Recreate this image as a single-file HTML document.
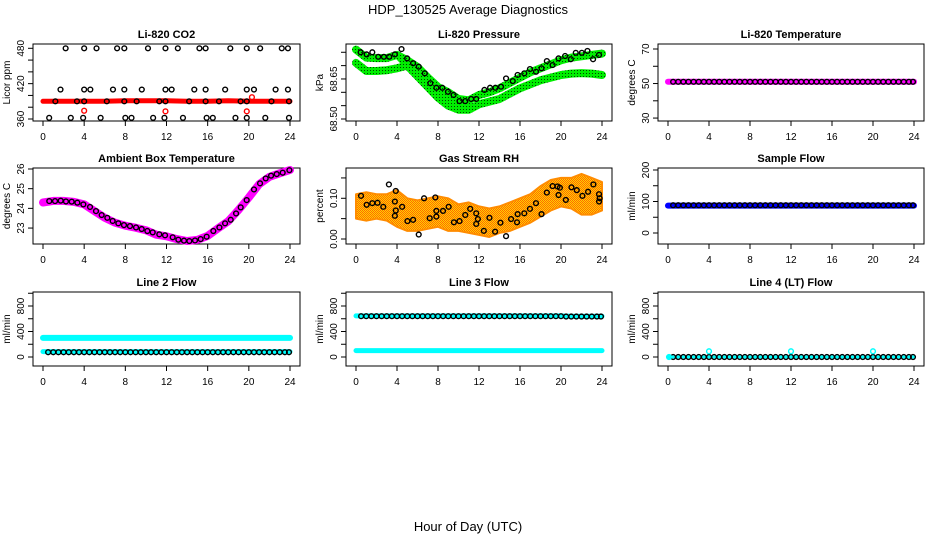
<!DOCTYPE html>
<html><head><meta charset="utf-8"><style>
html,body{margin:0;padding:0;background:#fff;}
svg{display:block;font-family:"Liberation Sans",Arial,sans-serif;}
</style></head><body>
<svg id="chart" width="936" height="540" viewBox="0 0 936 540" xmlns="http://www.w3.org/2000/svg">
<defs>
<pattern id="greenPat" width="3" height="3" patternUnits="userSpaceOnUse"><rect width="3" height="3" fill="#00ee00"/><rect x="1" y="1" width="1" height="1" fill="#004400"/></pattern>
<pattern id="rhPat" width="2" height="2" patternUnits="userSpaceOnUse"><rect width="2" height="2" fill="#ffd000"/><rect width="1" height="1" fill="#ff6a00"/><rect x="1" y="1" width="1" height="1" fill="#ff6a00"/></pattern>
</defs>
<text x="468" y="14" text-anchor="middle" font-size="13">HDP_130525  Average Diagnostics</text>
<text x="468" y="531" text-anchor="middle" font-size="13">Hour of Day (UTC)</text>
</svg>
<script>
// ---- data ----
const xTicks = [0,4,8,12,16,20,24];
const co2Hours = [2.2,4.0,5.2,7.2,7.9,10.2,11.9,13.1,15.2,15.8,18.2,19.8,21.1,23.2,23.8,
 1.7,4.0,4.6,6.8,7.9,9.6,11.9,12.5,14.7,15.8,17.7,19.8,20.5,22.6,23.8,
 1.2,3.3,4.0,6.2,7.9,9.1,11.3,11.9,14.2,15.8,17.1,19.2,19.8,22.2,23.9,
 0.6,2.7,3.9,5.6,8.0,8.6,10.7,11.8,13.6,15.9,16.5,18.7,19.8,21.6,23.9];
const co2Vals = [480,480,480,480,480,480,480,480,480,480,480,480,480,480,480,
 410,410,410,410,410,410,410,410,410,410,410,410,410,410,410,
 390,390,390,390,390,390,390,390,390,390,390,390,390,390,390,
 362,362,362,362,362,362,362,362,362,362,362,362,362,362,362];
const co2RedHours = [0,2,4,6,8,10,12,14,16,18,20,22,24];
const co2RedVals = [390,390,390,390,391,391,391,390,390,391,390,390,390];
const co2RedPtHours = [4.0,11.9,19.8,20.3];
const co2RedPtVals = [374,373,373,397];

const presHours = [0.45,1.04,1.59,2.17,2.72,3.24,3.79,4.44,4.99,5.57,6.12,6.71,7.25,7.84,8.42,8.97,9.52,10.1,10.66,11.24,11.73,12.53,13.08,13.6,14.15,14.64,15.29,15.77,16.42,16.97,17.56,18.1,18.62,19.18,19.76,20.4,20.96,21.44,22.03,22.58,23.13,23.71];
const presVals = [68.750,68.742,68.750,68.733,68.733,68.733,68.742,68.762,68.727,68.709,68.696,68.671,68.634,68.617,68.617,68.602,68.590,68.567,68.567,68.575,68.575,68.609,68.617,68.617,68.621,68.652,68.642,68.665,68.671,68.687,68.677,68.690,68.717,68.702,68.727,68.736,68.724,68.748,68.748,68.755,68.724,68.740];
const hourly = [0,1,2,3,4,5,6,7,8,9,10,11,12,13,14,15,16,17,18,19,20,21,22,23,24];
const presUpper = [68.76,68.73,68.728,68.728,68.74,68.72,68.695,68.655,68.62,68.60,68.575,68.57,68.59,68.60,68.615,68.635,68.655,68.675,68.69,68.705,68.72,68.73,68.735,68.74,68.745];
const presLower = [68.71,68.68,68.68,68.683,68.69,68.70,68.66,68.62,68.58,68.55,68.535,68.535,68.555,68.565,68.575,68.595,68.615,68.63,68.645,68.655,68.665,68.67,68.672,68.67,68.665];
const presMidHours = [4,5,6,7,8,9,10,11];
const presMidVals = [68.74,68.70,68.665,68.63,68.60,68.575,68.56,68.56];

const flowHours = [0.5,1,1.5,2,2.5,3,3.5,4,4.5,5,5.5,6,6.5,7,7.5,8,8.5,9,9.5,10,10.5,11,11.5,12,12.5,13,13.5,14,14.5,15,15.5,16,16.5,17,17.5,18,18.5,19,19.5,20,20.5,21,21.5,22,22.5,23,23.5,23.9];
const liTempVals = [51,51,51,51,51,51,51,51,51,51,51,51,51,51,51,51,51,51,51,51,51,51,51,51,51,51,51,51,51,51,51,51,51,51,51,51,51,51,51,51,51,51,51,51,51,51,51,51];
const liTempBand = [51,51,51,51,51,51,51,51,51,51,51,51,51,51,51,51,51,51,51,51,51,51,51,51,51];

const ambHours = [0.61,1.17,1.72,2.23,2.79,3.34,3.92,4.57,5.15,5.70,6.25,6.77,7.32,7.87,8.45,9.04,9.59,10.14,10.66,11.3,11.86,12.6,13.15,13.7,14.22,14.77,15.32,15.9,16.55,17.14,17.69,18.24,18.76,19.21,19.79,20.5,21.09,21.64,22.16,22.71,23.29,23.94];
const ambVals = [24.37,24.37,24.39,24.35,24.34,24.29,24.20,24.07,23.86,23.66,23.52,23.36,23.24,23.15,23.10,23.03,22.95,22.85,22.78,22.68,22.63,22.53,22.41,22.36,22.34,22.37,22.44,22.56,22.85,23.03,23.24,23.42,23.74,24.05,24.42,24.96,25.27,25.52,25.66,25.74,25.81,25.94];
const ambBand = [24.3,24.38,24.38,24.33,24.2,23.86,23.52,23.27,23.12,23.02,22.89,22.66,22.58,22.44,22.34,22.40,22.6,22.98,23.35,23.92,24.55,25.22,25.6,25.78,25.95];

const rhHours = [0.49,1.04,1.59,2.10,2.66,3.21,3.79,3.88,3.88,3.79,4.50,5.02,5.57,6.12,6.64,7.19,7.74,7.84,7.84,8.49,9.04,9.55,10.1,10.66,11.14,11.73,11.73,11.89,12.47,13.02,13.57,14.09,14.64,15.13,15.71,15.77,16.42,16.97,17.56,18.1,18.62,19.18,19.66,19.76,19.89,20.47,21.02,21.54,22.09,22.64,23.16,23.71,23.71,23.77];
const rhVals = [0.106,0.084,0.088,0.089,0.079,0.134,0.092,0.118,0.070,0.057,0.079,0.044,0.047,0.011,0.100,0.051,0.102,0.055,0.069,0.069,0.079,0.041,0.044,0.059,0.074,0.063,0.037,0.049,0.020,0.052,0.018,0.040,0.007,0.049,0.041,0.061,0.063,0.074,0.088,0.061,0.114,0.130,0.129,0.108,0.126,0.096,0.127,0.120,0.106,0.116,0.134,0.110,0.092,0.100];
const rhLow = [0.05,0.045,0.05,0.045,0.03,0.02,0.02,0.025,0.03,0.02,0.02,0.015,0.01,0.005,0.015,0.02,0.03,0.04,0.055,0.07,0.08,0.075,0.06,0.06,0.07];
const rhHigh = [0.11,0.115,0.11,0.11,0.12,0.10,0.095,0.10,0.105,0.10,0.085,0.09,0.08,0.075,0.08,0.09,0.10,0.11,0.13,0.145,0.15,0.15,0.16,0.15,0.14];

const sampleVals = [88,88,88,88,88,88,88,88,88,88,88,88,88,88,88,88,88,88,88,88,88,88,88,88,88,88,88,88,88,88,88,88,88,88,88,88,88,88,88,88,88,88,88,88,88,88,88,88];
const sampleBand = [87,87,87,87,87,87,87,87,87,87,87,87,87,87,87,87,87,87,87,87,87,87,87,87,87];

const line2Vals = [75,75,75,75,75,75,75,75,75,75,75,75,75,75,75,75,75,75,75,75,75,75,75,75,75,75,75,75,75,75,75,75,75,75,75,75,75,75,75,75,75,75,75,75,75,75,75,75];
const line2Upper = [300,300,300,300,300,300,300,300,300,300,300,300,300,300,300,300,300,300,300,300,300,300,300,300,300];
const line2Lower = [85,85,85,85,85,85,85,85,85,85,85,85,85,85,85,85,85,85,85,85,85,85,85,85,85];

const line3Vals = [640,640,640,640,640,640,640,640,640,640,640,640,640,640,640,640,640,640,640,640,640,640,640,640,640,640,640,640,640,640,640,640,640,640,640,640,640,640,640,640,635,635,635,635,635,635,635,635];
const line3Upper = [645,645,645,645,645,645,645,645,645,645,645,645,645,645,645,645,645,645,645,645,645,640,640,640,640];
const line3Lower = [100,100,100,100,100,100,100,100,100,100,100,100,100,100,100,100,100,100,100,100,100,100,100,100,100];

const line4Vals = [0,0,0,0,0,0,0,0,0,0,0,0,0,0,0,0,0,0,0,0,0,0,0,0,0,0,0,0,0,0,0,0,0,0,0,0,0,0,0,0,0,0,0,0,0,0,0,0];
const line4Band = [0,0,0,0,0,0,0,0,0,0,0,0,0,0,0,0,0,0,0,0,0,0,0,0,0];
const line4PtHours = [4,12,20];
const line4PtVals = [90,90,90];
const line4StartHours = [0.1];
const line4StartVals = [0];

// ---- drawing ----
const NS = "http://www.w3.org/2000/svg";
const svg = document.getElementById('chart');
function mk(tag, attrs, parent){
  const e = document.createElementNS(NS, tag);
  for (const k in attrs) e.setAttribute(k, attrs[k]);
  (parent||svg).appendChild(e);
  return e;
}
function makePanel(name, title, ytitle, x0, x1, y0, y1, ymin, ymax, yTicks, yLabels){
  const g = mk('g', {});
  
  
  const p = {g, x0, x1, y0, y1, ymin, ymax};
  p.sx = h => x0 + 10 + h * (x1 - x0 - 20) / 24;
  p.sy = v => y1 - (v - ymin) / (ymax - ymin) * (y1 - y0);
  const t = mk('text', {x:(x0+x1)/2, y:y0-6, 'text-anchor':'middle', 'font-size':11, 'font-weight':'bold'}, g);
  t.textContent = title;
  
  
  const yt = mk('text', {x:x0-23, y:(y0+y1)/2, 'text-anchor':'middle', 'font-size':10, transform:`rotate(-90 ${x0-23} ${(y0+y1)/2})`}, g);
  yt.textContent = ytitle;
  
  
  const xa = mk('g', {}, g);
  
  
  mk('line', {x1:p.sx(xTicks[0]), x2:p.sx(xTicks[xTicks.length-1]), y1:y1, y2:y1, stroke:'#000'}, xa);
  xTicks.forEach(v => {
    const x = p.sx(v);
    mk('line', {x1:x, x2:x, y1:y1, y2:y1+5, stroke:'#000'}, xa);
    const l = mk('text', {x:x, y:y1+19, 'text-anchor':'middle', 'font-size':10}, xa);
    l.textContent = v;
  });
  const ya = mk('g', {}, g);
  
  
  mk('line', {x1:x0, x2:x0, y1:p.sy(yTicks[0]), y2:p.sy(yTicks[yTicks.length-1]), stroke:'#000'}, ya);
  yTicks.forEach(v => {
    const y = p.sy(v);
    mk('line', {x1:x0-5, x2:x0, y1:y, y2:y, stroke:'#000'}, ya);
  });
  yLabels.forEach(v => {
    const y = p.sy(parseFloat(v));
    const l = mk('text', {x:x0-9, y:y, 'text-anchor':'middle', 'font-size':10, transform:`rotate(-90 ${x0-9} ${y})`}, ya);
    l.textContent = v;
  });
  const box = mk('rect', {x:x0, y:y0, width:x1-x0, height:y1-y0, fill:'none', stroke:'#000'}, g);
  
  
  p.marks = mk('g', {}, g);
  
  
  return p;
}
function band(p, hs, vs, color, w, name){
  const pts = hs.map((h,i) => p.sx(h).toFixed(1) + ',' + p.sy(vs[i]).toFixed(1)).join(' ');
  const e = mk('polyline', {points:pts, fill:'none', stroke:color, 'stroke-width':w, 'stroke-linecap':'round', 'stroke-linejoin':'round'}, p.marks);
  
  
  return e;
}
function circles(p, hs, vs, color, name, fill){
  const g = mk('g', {}, p.marks);
  
  
  hs.forEach((h,i) => {
    const c = mk('circle', {cx:p.sx(h), cy:p.sy(vs[i]), r:2.4, fill:fill||'none', stroke:color, 'stroke-width':1.4}, g);
    
    
  });
}
function area(p, hs, lo, hi, fill, name){
  const top = hs.map((h,i) => p.sx(h).toFixed(1) + ',' + p.sy(hi[i]).toFixed(1));
  const bot = hs.map((h,i) => p.sx(h).toFixed(1) + ',' + p.sy(lo[i]).toFixed(1)).reverse();
  const e = mk('polygon', {points:top.concat(bot).join(' '), fill:fill, stroke:'#ff8c00', 'stroke-width':2, 'stroke-linejoin':'round'}, p.marks);
  
  
}

const C1=[33,300], C2=[346,612], C3=[658,924];
const R1=[44,121], R2=[168,244], R3=[292,366];

const pCo2 = makePanel('co2','Li-820 CO2','Licor ppm',C1[0],C1[1],R1[0],R1[1],356.6,487.3,[360,380,400,420,440,460,480],['360','420','480']);
band(pCo2, co2RedHours, co2RedVals, '#ff0000', 5, 'co2-red-band');
circles(pCo2, co2RedPtHours, co2RedPtVals, '#ff0000', 'co2-red-points');
circles(pCo2, co2Hours, co2Vals, '#000', 'co2-avg-points');

const pPres = makePanel('pressure','Li-820 Pressure','kPa',C2[0],C2[1],R1[0],R1[1],68.4925,68.781,[68.50,68.55,68.60,68.65,68.70,68.75],['68.50','68.65']);
band(pPres, hourly, presLower, 'url(#greenPat)', 8, 'pressure-green-lower');
band(pPres, presMidHours, presMidVals, 'url(#greenPat)', 7, 'pressure-green-mid');
band(pPres, hourly, presUpper, 'url(#greenPat)', 8, 'pressure-green-upper');
circles(pPres, presHours, presVals, '#000', 'pressure-avg-points');

const pTemp = makePanel('li820-temp','Li-820 Temperature','degrees C',C3[0],C3[1],R1[0],R1[1],28.3,72.9,[30,40,50,60,70],['30','50','70']);
band(pTemp, hourly, liTempBand, '#ff00ff', 6, 'li820-temp-band');
circles(pTemp, flowHours, liTempVals, '#000', 'li820-temp-avg-points');

const pAmb = makePanel('ambient','Ambient Box Temperature','degrees C',C1[0],C1[1],R2[0],R2[1],22.19,26.05,[23,24,25,26],['23','24','25','26']);
band(pAmb, hourly, ambBand, '#ff00ff', 8, 'ambient-band');
circles(pAmb, ambHours, ambVals, '#000', 'ambient-avg-points');

const pRh = makePanel('rh','Gas Stream RH','percent',C2[0],C2[1],R2[0],R2[1],-0.0123,0.1744,[0,0.05,0.10,0.15],['0.00','0.10']);
area(pRh, hourly, rhLow, rhHigh, 'url(#rhPat)', 'rh-cloud');
circles(pRh, rhHours, rhVals, '#000', 'rh-avg-points');

const pSample = makePanel('sample-flow','Sample Flow','ml/min',C3[0],C3[1],R2[0],R2[1],-34.9,206.3,[0,50,100,150,200],['0','100','200']);
band(pSample, hourly, sampleBand, '#0000ff', 6, 'sample-flow-band');
circles(pSample, flowHours, sampleVals, '#000', 'sample-flow-avg-points');

const fTicks=[0,200,400,600,800,1000], fLabels=['0','400','800'];
const pL2 = makePanel('line2','Line 2 Flow','ml/min',C1[0],C1[1],R3[0],R3[1],-141,1019.6,fTicks,fLabels);
band(pL2, hourly, line2Upper, '#00ffff', 6, 'line2-upper-band');
band(pL2, hourly, line2Lower, '#00ffff', 5, 'line2-lower-band');
circles(pL2, flowHours, line2Vals, '#000', 'line2-avg-points');

const pL3 = makePanel('line3','Line 3 Flow','ml/min',C2[0],C2[1],R3[0],R3[1],-141,1019.6,fTicks,fLabels);
band(pL3, hourly, line3Upper, '#00ffff', 5, 'line3-upper-band');
band(pL3, hourly, line3Lower, '#00ffff', 5, 'line3-lower-band');
circles(pL3, flowHours, line3Vals, '#000', 'line3-avg-points');

const pL4 = makePanel('line4','Line 4 (LT) Flow','ml/min',C3[0],C3[1],R3[0],R3[1],-141,1019.6,fTicks,fLabels);
band(pL4, hourly, line4Band, '#00ffff', 3, 'line4-band');
circles(pL4, flowHours, line4Vals, '#000', 'line4-avg-points');
circles(pL4, line4PtHours, line4PtVals, '#00ffff', 'line4-cyan-points');
circles(pL4, line4StartHours, line4StartVals, '#00ffff', 'line4-start-point', '#00ffff');
</script>
</body></html>
